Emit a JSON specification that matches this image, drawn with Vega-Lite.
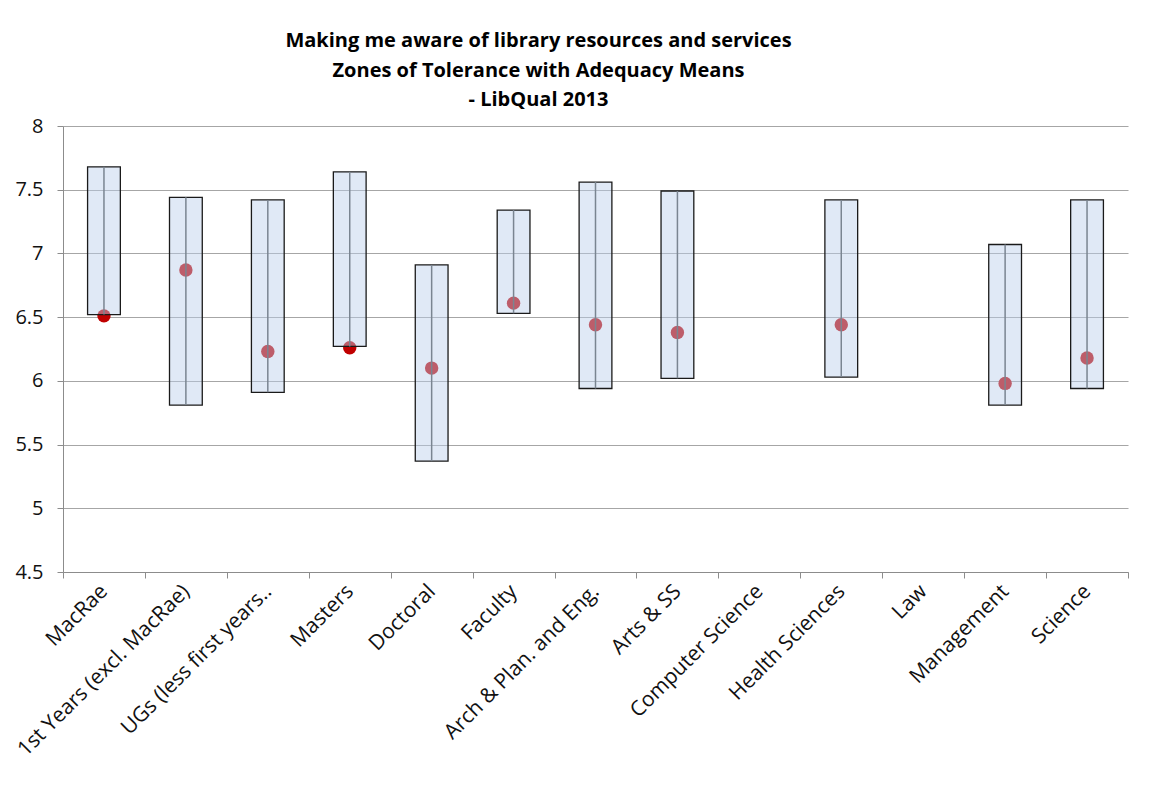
{
  "$schema": "https://vega.github.io/schema/vega-lite/v6.json",
  "width": 1065,
  "height": 446,
  "autosize": {"type": "none"},
  "padding": {"left": 63, "top": 126, "right": 23, "bottom": 219},
  "background": "white",
  "title": {
    "text": ["Making me aware of library resources and services", "Zones of Tolerance with Adequacy Means", "- LibQual 2013"],
    "font": "Open Sans",
    "fontSize": 20,
    "fontWeight": "bold",
    "color": "#000000",
    "lineHeight": 29.5,
    "anchor": "middle",
    "dx": -57,
    "offset": 6
  },
  "data": {
    "values": [
      {"group": "MacRae", "minimum": 6.52, "desired": 7.68, "adequacy": 6.51},
      {"group": "1st Years (excl. MacRae)", "minimum": 5.81, "desired": 7.44, "adequacy": 6.87},
      {"group": "UGs (less first years..", "minimum": 5.91, "desired": 7.42, "adequacy": 6.23},
      {"group": "Masters", "minimum": 6.27, "desired": 7.64, "adequacy": 6.26},
      {"group": "Doctoral", "minimum": 5.37, "desired": 6.91, "adequacy": 6.1},
      {"group": "Faculty", "minimum": 6.53, "desired": 7.34, "adequacy": 6.61},
      {"group": "Arch & Plan. and Eng.", "minimum": 5.94, "desired": 7.56, "adequacy": 6.44},
      {"group": "Arts & SS", "minimum": 6.02, "desired": 7.49, "adequacy": 6.38},
      {"group": "Computer Science", "minimum": null, "desired": null, "adequacy": null},
      {"group": "Health Sciences", "minimum": 6.03, "desired": 7.42, "adequacy": 6.44},
      {"group": "Law", "minimum": null, "desired": null, "adequacy": null},
      {"group": "Management", "minimum": 5.81, "desired": 7.07, "adequacy": 5.98},
      {"group": "Science", "minimum": 5.94, "desired": 7.42, "adequacy": 6.18}
    ]
  },
  "encoding": {
    "x": {
      "field": "group",
      "type": "nominal",
      "sort": null,
      "scale": {
        "domain": ["MacRae", "1st Years (excl. MacRae)", "UGs (less first years..", "Masters", "Doctoral", "Faculty", "Arch & Plan. and Eng.", "Arts & SS", "Computer Science", "Health Sciences", "Law", "Management", "Science"],
        "paddingInner": 0,
        "paddingOuter": 0
      },
      "axis": {
        "title": null,
        "labelAngle": -45,
        "labelAlign": "right",
        "labelBaseline": "middle",
        "labelFont": "Open Sans",
        "labelFontSize": 21,
        "labelColor": "#111111",
        "labelPadding": 10,
        "labelLimit": 400,
        "labelOverlap": false,
        "tickBand": "extent",
        "tickSize": 6,
        "tickColor": "#8c8c8c",
        "domainColor": "#8c8c8c",
        "grid": false
      }
    }
  },
  "layer": [
    {
      "mark": {"type": "point", "filled": true, "shape": "circle", "size": 180, "color": "#c00000", "opacity": 1},
      "encoding": {
        "y": {
          "field": "adequacy",
          "type": "quantitative",
          "scale": {"domain": [4.5, 8], "nice": false, "zero": false},
          "axis": {
            "title": null,
            "values": [4.5, 5, 5.5, 6, 6.5, 7, 7.5, 8],
            "format": "~g",
            "labelFont": "Open Sans",
            "labelFontSize": 20,
            "labelColor": "#111111",
            "labelPadding": 14,
            "tickSize": 6,
            "tickColor": "#8c8c8c",
            "domainColor": "#8c8c8c",
            "gridColor": "#a6a6a6",
            "gridWidth": 1.2
          }
        }
      }
    },
    {
      "mark": {"type": "bar", "width": {"band": 0.4}, "color": "#bacfeb", "fillOpacity": 0.45, "stroke": "#1a1a1a", "strokeWidth": 1.3},
      "encoding": {
        "y": {"field": "desired", "type": "quantitative"},
        "y2": {"field": "minimum"}
      }
    },
    {
      "mark": {"type": "rule", "color": "#7a8591", "strokeWidth": 1.5},
      "encoding": {
        "y": {"field": "desired", "type": "quantitative"},
        "y2": {"field": "minimum"}
      }
    }
  ],
  "config": {
    "view": {"stroke": null}
  }
}
